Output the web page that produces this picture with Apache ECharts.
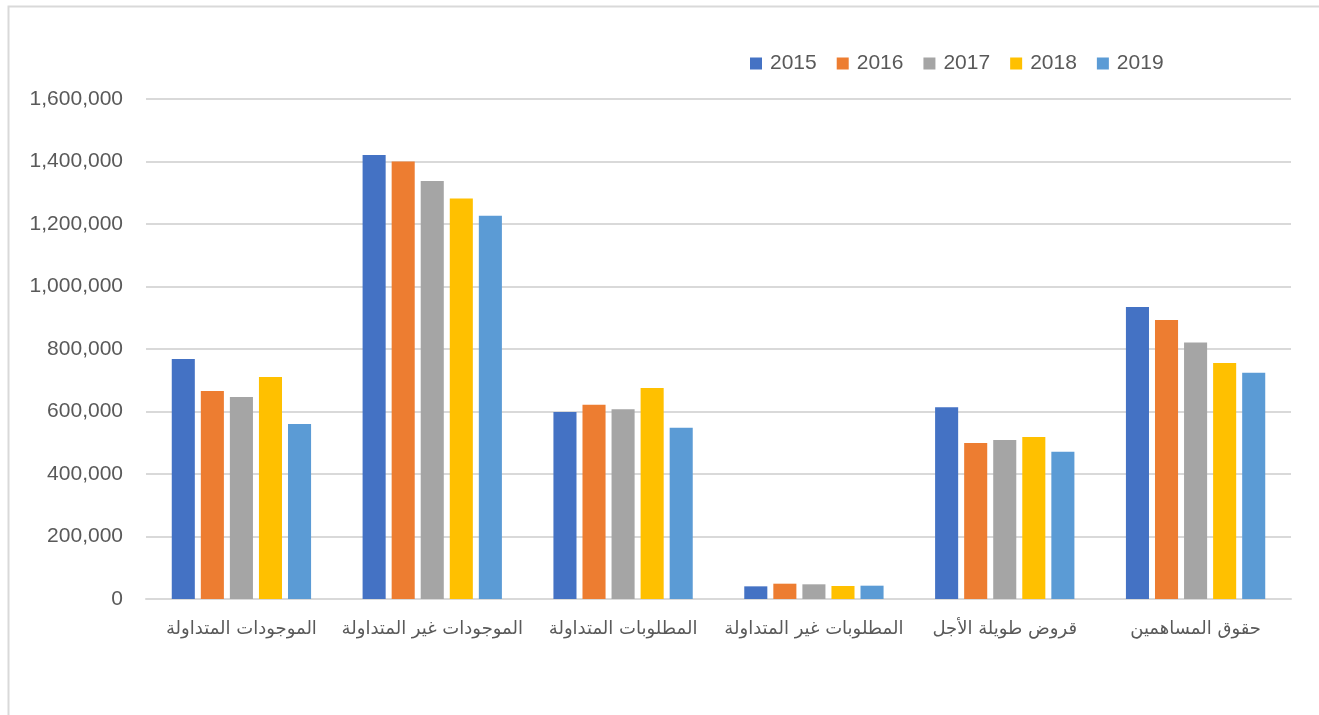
<!DOCTYPE html>
<html>
<head>
<meta charset="utf-8">
<script src="https://cdn.jsdelivr.net/npm/echarts@6/dist/echarts.min.js"></script>
<style>
  html, body { margin: 0; padding: 0; background: #fff; }
  #chart { width: 1319px; height: 715px; }
</style>
</head>
<body>
<div id="chart"></div>
<script>
var categories = ['الموجودات المتداولة', 'الموجودات غير المتداولة', 'المطلوبات المتداولة',
    'المطلوبات غير المتداولة', 'قروض طويلة الأجل', 'حقوق المساهمين'];
var years = ['2015', '2016', '2017', '2018', '2019'];
var colors = ['#4472C4', '#ED7D31', '#A5A5A5', '#FFC000', '#5B9BD5'];

var v2015 = [768000, 1420800, 598400, 40500, 613300, 934400];
var v2016 = [665600, 1400000, 621800, 49000, 499200, 892800];
var v2017 = [646400, 1337600, 607000, 47000, 508800, 821000];
var v2018 = [710400, 1282000, 675200, 41600, 518400, 755200];
var v2019 = [560000, 1226600, 548200, 42600, 471400, 724000];
var values = [v2015, v2016, v2017, v2018, v2019];

var chart = echarts.init(document.getElementById('chart'));
var series = [];
for (var i = 0; i < years.length; i++) {
    series.push({
        name: years[i],
        type: 'bar',
        data: values[i],
        barGap: '26%',
        barCategoryGap: '27%',
        itemStyle: { color: colors[i] }
    });
}

var option = {
    animation: false,
    textStyle: { fontFamily: "'Liberation Sans', 'DejaVu Sans', sans-serif" },
    graphic: [{
        type: 'rect',
        shape: { x: 8.5, y: 6.5, width: 1400, height: 800 },
        style: { fill: 'none', stroke: '#d9d9d9', lineWidth: 2 },
        silent: true
    }],
    legend: {
        data: years,
        left: 745,
        top: 48,
        itemWidth: 12,
        itemHeight: 12,
        itemGap: 20,
        icon: 'rect',
        textStyle: { fontSize: 21, color: '#595959', padding: [0, 0, 0, 3],
            fontFamily: "'Liberation Sans', sans-serif" }
    },
    grid: { left: 146, right: 28, top: 99, bottom: 116 },
    xAxis: {
        type: 'category',
        data: categories,
        axisLine: { lineStyle: { color: '#d9d9d9', width: 2 } },
        axisTick: { show: false },
        axisLabel: { interval: 0, fontSize: 18, color: '#595959', margin: 21,
            fontFamily: "'DejaVu Sans', sans-serif" }
    },
    yAxis: {
        type: 'value',
        min: 0,
        max: 1600000,
        interval: 200000,
        axisLine: { show: false },
        axisTick: { show: false },
        splitLine: { lineStyle: { color: '#d9d9d9', width: 2 } },
        axisLabel: {
            fontSize: 21,
            color: '#595959',
            margin: 23,
            formatter: function (v) { return v.toLocaleString('en-US'); }
        }
    },
    series: series
};
chart.setOption(option);
</script>
</body>
</html>
